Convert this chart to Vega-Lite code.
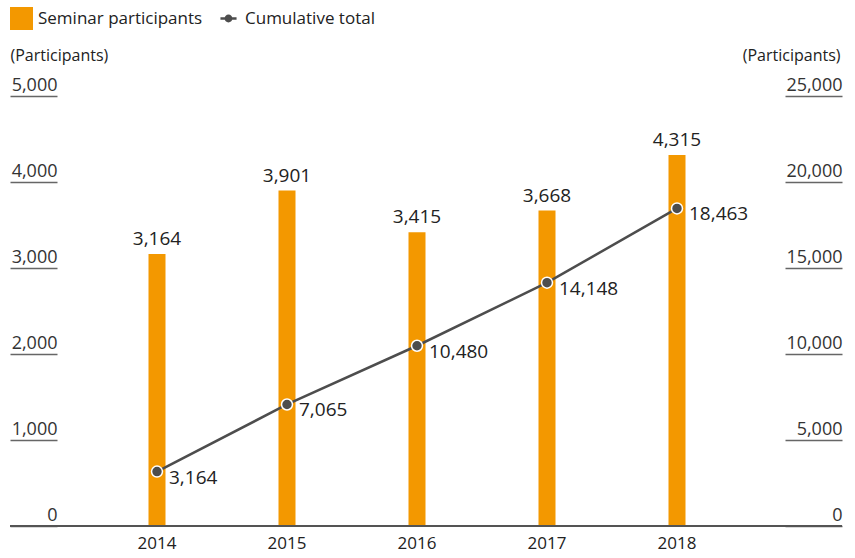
{
  "$schema": "https://vega.github.io/schema/vega-lite/v6.json",
  "width": 728,
  "height": 430,
  "autosize": {"type": "none"},
  "padding": {"left": 57, "top": 96, "right": 70, "bottom": 32},
  "background": "white",
  "config": {
    "view": {"stroke": null},
    "font": "Open Sans",
    "text": {"font": "Open Sans"}
  },
  "data": {
    "values": [
      {"year": "2014", "participants": 3164, "cumulative": 3164},
      {"year": "2015", "participants": 3901, "cumulative": 7065},
      {"year": "2016", "participants": 3415, "cumulative": 10480},
      {"year": "2017", "participants": 3668, "cumulative": 14148},
      {"year": "2018", "participants": 4315, "cumulative": 18463}
    ]
  },
  "encoding": {
    "x": {
      "field": "year",
      "type": "nominal",
      "scale": {"type": "band", "range": [35, 685], "paddingInner": 0, "paddingOuter": 0},
      "axis": {
        "title": null,
        "domain": false,
        "ticks": false,
        "labelAngle": 0,
        "labelFontSize": 17,
        "labelColor": "#222",
        "labelPadding": 9,
        "labelFont": "Open Sans"
      }
    }
  },
  "layer": [
    {
      "encoding": {
        "y": {
          "field": "participants",
          "type": "quantitative",
          "scale": {"domain": [0, 5000], "nice": false},
          "axis": {
            "orient": "left",
            "values": [0, 1000, 2000, 3000, 4000, 5000],
            "format": ",d",
            "grid": false,
            "domain": false,
            "ticks": true,
            "tickSize": 47,
            "tickColor": "#666",
            "tickWidth": 1.5,
            "labelAlign": "right",
            "labelBaseline": "bottom",
            "labelPadding": -47,
            "labelOffset": -2,
            "labelFlush": false,
            "labelOverlap": false,
            "labelFontSize": 18,
            "labelColor": "#333",
            "labelFont": "Open Sans",
            "title": "(Participants)",
            "titleAngle": 0,
            "titleX": -47,
            "titleY": -41,
            "titleAlign": "left",
            "titleBaseline": "middle",
            "titleFontWeight": "normal",
            "titleFontSize": 16,
            "titleColor": "#222",
            "titleFont": "Open Sans"
          }
        }
      },
      "layer": [
        {
          "mark": {"type": "bar", "size": 17},
          "encoding": {
            "color": {
              "datum": "Seminar participants",
              "type": "nominal",
              "scale": {"domain": ["Seminar participants", "Cumulative total"], "range": ["#F39800", "#4d4d4d"]},
              "legend": {
                "orient": "none",
                "legendX": -47,
                "legendY": -89,
                "direction": "horizontal",
                "title": null,
                "labelFontSize": 17,
                "labelFont": "Open Sans",
                "labelColor": "#222",
                "labelLimit": 400,
                "symbolSize": 529,
                "symbolType": "square",
                "symbolStrokeWidth": 0,
                "columnPadding": 14,
                "labelOffset": 5,
                "gridAlign": "none",
                "encode": {
                  "symbols": {
                    "update": {
                      "shape": {"signal": "datum.label === 'Cumulative total' ? 'M-0.7,-0.1L-0.3,-0.1L-0.3,0.1L-0.7,0.1Z M0.3,-0.1L0.7,-0.1L0.7,0.1L0.3,0.1Z M0.34,0A0.34,0.34,0,1,1,-0.34,0A0.34,0.34,0,1,1,0.34,0Z' : 'square'"},
                      "size": {"value": 529},
                      "fill": {"signal": "datum.label === 'Cumulative total' ? '#4d4d4d' : '#F39800'"},
                      "stroke": {"value": "transparent"},
                      "strokeWidth": {"value": 0},
                      "opacity": {"value": 1}
                    }
                  }
                }
              }
            }
          }
        },
        {
          "mark": {"type": "text", "baseline": "bottom", "dy": -5, "fontSize": 19, "color": "#222", "font": "Open Sans"},
          "encoding": {
            "text": {"field": "participants", "type": "quantitative", "format": ","}
          }
        },
        {
          "mark": {"type": "rule", "color": "#555", "strokeWidth": 1.5},
          "encoding": {"y": {"datum": 0}, "x": {"value": -47}, "x2": {"value": 785}}
        }
      ]
    },
    {
      "encoding": {
        "y": {
          "field": "cumulative",
          "type": "quantitative",
          "scale": {"domain": [0, 25000], "nice": false},
          "axis": {
            "orient": "right",
            "values": [0, 5000, 10000, 15000, 20000, 25000],
            "format": ",d",
            "grid": false,
            "domain": false,
            "ticks": true,
            "tickSize": 57,
            "tickColor": "#666",
            "tickWidth": 1.5,
            "labelAlign": "right",
            "labelBaseline": "bottom",
            "labelPadding": 0,
            "labelOffset": -2,
            "labelFlush": false,
            "labelOverlap": false,
            "labelFontSize": 18,
            "labelColor": "#333",
            "labelFont": "Open Sans",
            "title": "(Participants)",
            "titleAngle": 0,
            "titleX": 55,
            "titleY": -41,
            "titleAlign": "right",
            "titleBaseline": "middle",
            "titleFontWeight": "normal",
            "titleFontSize": 16,
            "titleColor": "#222",
            "titleFont": "Open Sans"
          }
        }
      },
      "layer": [
        {
          "mark": {"type": "line", "strokeWidth": 2.5},
          "encoding": {
            "color": {"datum": "Cumulative total", "type": "nominal"}
          }
        },
        {
          "mark": {"type": "point", "filled": true, "fill": "#4d4d4d", "stroke": "white", "strokeWidth": 1.5, "size": 120, "opacity": 1},
          "encoding": {}
        },
        {
          "mark": {"type": "text", "align": "left", "baseline": "middle", "dx": 12, "dy": 6, "fontSize": 19, "color": "#222", "font": "Open Sans"},
          "encoding": {
            "text": {"field": "cumulative", "type": "quantitative", "format": ","}
          }
        }
      ]
    }
  ],
  "resolve": {"scale": {"y": "independent"}}
}
